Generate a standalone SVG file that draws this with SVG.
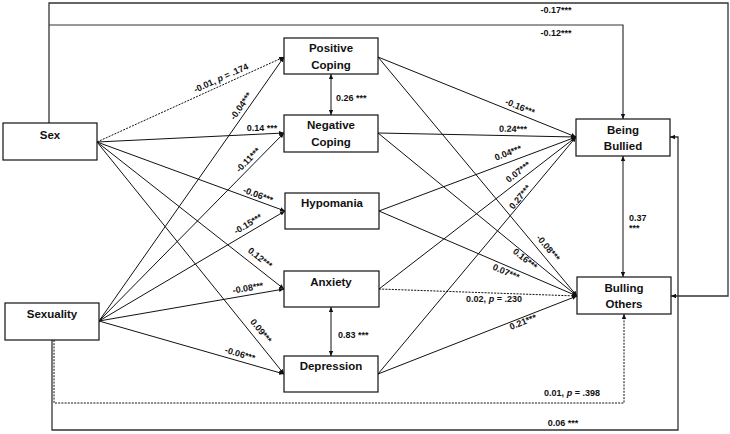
<svg xmlns="http://www.w3.org/2000/svg" width="730" height="434" viewBox="0 0 730 434">
<defs>
<marker id="ah" markerUnits="userSpaceOnUse" markerWidth="6" markerHeight="5" refX="5" refY="2.5" orient="auto-start-reverse">
<path d="M0,0.3 L5,2.5 L0,4.7 Z" fill="#111"/>
</marker>
<style>
.box{fill:#fff;stroke:#111;stroke-width:1.2}
.nt{font-family:"Liberation Sans",Arial,sans-serif;font-weight:bold;font-size:11.5px;fill:#111;text-anchor:middle}
.lb{font-family:"Liberation Sans",Arial,sans-serif;font-weight:bold;font-size:9px;fill:#111;text-anchor:middle}
.e{fill:none;stroke:#111;stroke-width:1;marker-end:url(#ah)}
.d{stroke-dasharray:2,1.2}
.bi{marker-start:url(#ah)}
</style>
</defs>
<rect width="730" height="434" fill="#fff"/>
<g id="connectors">
<path class="e" d="M49,123 V3 H728 V296 H671" style="stroke:#333;stroke-width:1.3"/>
<path class="e" d="M49,25 H623 V119" style="stroke:#333;stroke-width:1.2"/>
<path class="e" d="M52,340 V430 H678 V137 H670" style="stroke:#333;stroke-width:1.3"/>
<path class="e d" d="M54,340 V403 H624 V314"/>
<path class="e bi" d="M623,156 V277"/>
<path class="e bi" d="M331,74 V115"/>
<path class="e bi" d="M331,307 V356"/>
<path class="e d" d="M97,142 L284,57"/>
<path class="e" d="M97,142 L284,133"/>
<path class="e" d="M97,142 L285,211"/>
<path class="e" d="M97,142 L284,289"/>
<path class="e" d="M97,142 L284,374"/>
<path class="e" d="M99,321 L284,57"/>
<path class="e" d="M99,321 L284,133"/>
<path class="e" d="M99,321 L285,211"/>
<path class="e" d="M99,321 L284,289"/>
<path class="e" d="M99,321 L284,374"/>
<path class="e" d="M378,57 L576,137"/>
<path class="e" d="M378,133 L576,137"/>
<path class="e" d="M379,211 L576,137"/>
<path class="e" d="M379,289 L576,137"/>
<path class="e" d="M378,374 L576,137"/>
<path class="e" d="M378,57 L577,296"/>
<path class="e" d="M378,133 L577,296"/>
<path class="e" d="M379,211 L577,296"/>
<path class="e d" d="M379,289 L577,296"/>
<path class="e" d="M378,374 L577,296"/>
</g>
<g id="labels">
<text class="lb" x="556" y="13">-0.17***</text>
<text class="lb" x="556" y="36">-0.12***</text>
<text class="lb" x="563" y="426">0.06 ***</text>
<text class="lb" x="572" y="396">0.01, <tspan font-style="italic">p</tspan> = .398</text>
<text class="lb" x="629" y="221" style="text-anchor:start">0.37</text>
<text class="lb" x="629" y="231" style="text-anchor:start">***</text>
<text class="lb" x="336" y="101" style="text-anchor:start">0.26 ***</text>
<text class="lb" x="338" y="338" style="text-anchor:start">0.83 ***</text>
<text class="lb" transform="translate(221 78) rotate(-24.4)" dy="3">-0.01, <tspan font-style="italic">p</tspan> = .174</text>
<text class="lb" transform="translate(262 128)" dy="3">0.14 ***</text>
<text class="lb" transform="translate(258 195) rotate(20.2)" dy="3">-0.06***</text>
<text class="lb" transform="translate(260 258) rotate(38.2)" dy="3">0.12***</text>
<text class="lb" transform="translate(261 331) rotate(51.1)" dy="3">0.09***</text>
<text class="lb" transform="translate(241 106) rotate(-55)" dy="3">-0.04***</text>
<text class="lb" transform="translate(248 160) rotate(-45.5)" dy="3">-0.11***</text>
<text class="lb" transform="translate(248 224) rotate(-30.6)" dy="3">-0.15***</text>
<text class="lb" transform="translate(248 288) rotate(-9.8)" dy="3">-0.08***</text>
<text class="lb" transform="translate(240 354) rotate(16)" dy="3">-0.06***</text>
<text class="lb" transform="translate(520 107) rotate(22)" dy="3">-0.16***</text>
<text class="lb" transform="translate(513 129) rotate(1.2)" dy="3">0.24***</text>
<text class="lb" transform="translate(508 153) rotate(-20.6)" dy="3">0.04***</text>
<text class="lb" transform="translate(518 172) rotate(-37.7)" dy="3">0.07***</text>
<text class="lb" transform="translate(520 197) rotate(-50.1)" dy="3">0.27***</text>
<text class="lb" transform="translate(548 248) rotate(50.2)" dy="3">-0.08***</text>
<text class="lb" transform="translate(525 259) rotate(39.3)" dy="3">0.16***</text>
<text class="lb" transform="translate(506 272) rotate(23.2)" dy="3">0.07***</text>
<text class="lb" transform="translate(494 299)" dy="3">0.02, <tspan font-style="italic">p</tspan> = .230</text>
<text class="lb" transform="translate(523 322) rotate(-21.4)" dy="3">0.21***</text>
</g>
<g id="sex"><rect class="box" x="3" y="123" width="94" height="37"/><text class="nt" x="50" y="139">Sex</text></g>
<g id="sexuality"><rect class="box" x="5" y="303" width="94" height="37"/><text class="nt" x="52" y="318">Sexuality</text></g>
<g id="positive-coping"><rect class="box" x="284" y="38" width="94" height="36"/><text class="nt" x="331" y="52">Positive</text><text class="nt" x="331" y="69">Coping</text></g>
<g id="negative-coping"><rect class="box" x="284" y="115" width="94" height="37"/><text class="nt" x="331" y="129">Negative</text><text class="nt" x="331" y="146">Coping</text></g>
<g id="hypomania"><rect class="box" x="285" y="193" width="94" height="36"/><text class="nt" x="332" y="207">Hypomania</text></g>
<g id="anxiety"><rect class="box" x="284" y="271" width="95" height="36"/><text class="nt" x="331" y="286">Anxiety</text></g>
<g id="depression"><rect class="box" x="284" y="356" width="94" height="36"/><text class="nt" x="331" y="370">Depression</text></g>
<g id="being-bullied"><rect class="box" x="576" y="119" width="94" height="37"/><text class="nt" x="623" y="134">Being</text><text class="nt" x="623" y="150">Bullied</text></g>
<g id="bulling-others"><rect class="box" x="577" y="277" width="94" height="37"/><text class="nt" x="624" y="292">Bulling</text><text class="nt" x="624" y="308">Others</text></g>
</svg>
